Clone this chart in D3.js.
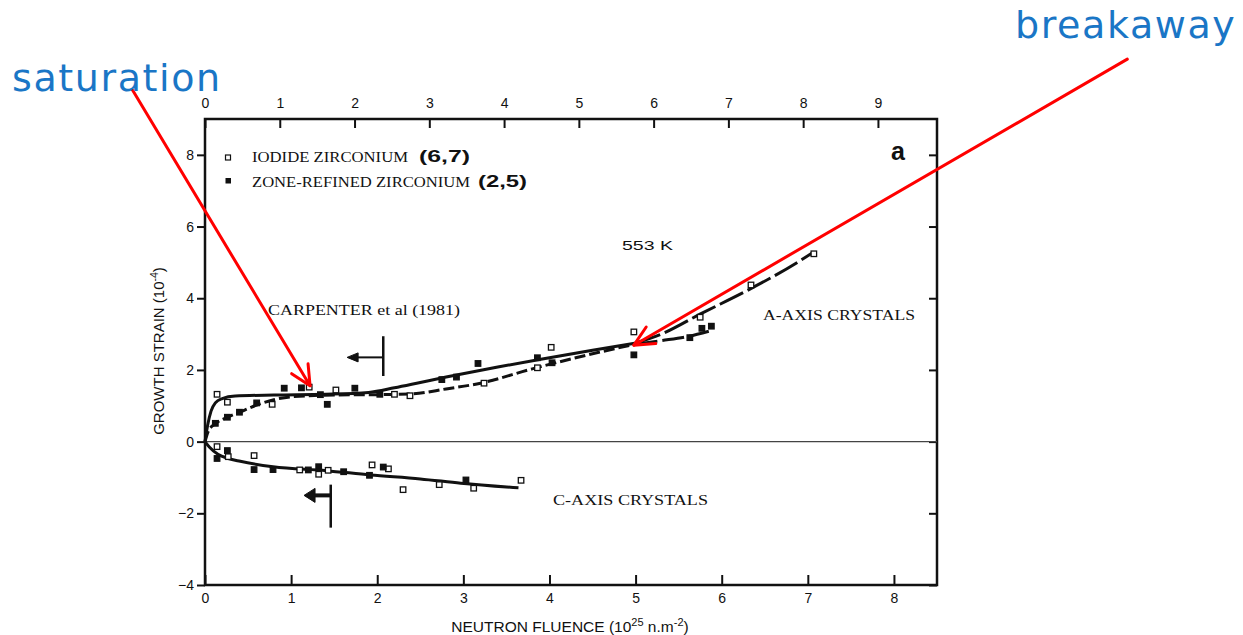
<!DOCTYPE html>
<html>
  <head>
    <script src="https://d3js.org/d3.v7.min.js"></script>
  </head>
  <style>
    body { margin: 0; background: #fff; }
    .tick text { font-family: "Liberation Sans", Arial, sans-serif; font-size: 14px; fill: #111; }
    .tick line { stroke: #111; stroke-width: 2; }
  </style>
  <body>
    <svg></svg>
    <script>
// ---- data (fluence 10^25 n.m^-2, strain 10^-4) ----
const bottomTicks = [0, 1, 2, 3, 4, 5, 6, 7, 8];
const topTicks = [0, 1, 2, 3, 4, 5, 6, 7, 8, 9];
const leftTicks = [-4, -2, 0, 2, 4, 6, 8];

// a-axis, iodide (open squares)
const aIodideX = [0.14, 0.26, 0.78, 1.21, 1.52, 2.2, 2.38, 3.24, 3.86, 4.02, 4.98, 5.75, 6.34, 7.07];
const aIodideY = [1.32, 1.1, 1.04, 1.52, 1.44, 1.32, 1.28, 1.63, 2.06, 2.63, 3.06, 3.47, 4.37, 5.24];
// a-axis, zone refined (filled squares)
const aZoneX = [0.12, 0.26, 0.4, 0.6, 0.92, 1.12, 1.34, 1.42, 1.74, 2.03, 2.75, 2.92, 3.17, 3.86, 4.03, 4.98, 5.63, 5.77, 5.88];
const aZoneY = [0.51, 0.68, 0.82, 1.08, 1.49, 1.5, 1.31, 1.04, 1.49, 1.32, 1.73, 1.8, 2.18, 2.34, 2.2, 2.42, 2.9, 3.16, 3.22];
// c-axis, iodide (open)
const cIodideX = [0.14, 0.27, 0.57, 1.1, 1.32, 1.43, 1.94, 2.13, 2.3, 2.72, 3.12, 3.67];
const cIodideY = [-0.14, -0.42, -0.39, -0.79, -0.91, -0.8, -0.65, -0.76, -1.34, -1.2, -1.3, -1.08];
// c-axis, zone refined (filled)
const cZoneX = [0.14, 0.26, 0.57, 0.79, 1.2, 1.32, 1.61, 1.91, 2.07, 3.03];
const cZoneY = [-0.47, -0.25, -0.78, -0.78, -0.79, -0.7, -0.84, -0.94, -0.71, -1.07];

// fitted curves
const upperX = [0, 0.03, 0.07, 0.12, 0.2, 0.35, 0.8, 1.4, 1.9, 2.2, 2.5, 2.8, 3.4, 3.9, 4.5, 5.0];
const upperY = [0, 0.45, 0.85, 1.08, 1.2, 1.27, 1.3, 1.32, 1.37, 1.5, 1.65, 1.8, 2.08, 2.3, 2.55, 2.75];
const upperExtX = [5.0, 5.3, 5.76, 6.3, 6.88, 7.05];
const upperExtY = [2.75, 3.0, 3.57, 4.22, 5.0, 5.26];
const lowerX = [0, 0.04, 0.12, 0.26, 0.4, 0.6, 0.8, 1.0, 1.5, 2.0, 2.4, 2.8, 3.2, 3.8, 4.5, 5.0];
const lowerY = [0, 0.3, 0.5, 0.68, 0.82, 1.02, 1.17, 1.25, 1.3, 1.31, 1.33, 1.47, 1.63, 2.03, 2.45, 2.72];
const branchX = [5.0, 5.3, 5.6, 5.85];
const branchY = [2.72, 2.82, 2.93, 3.08];
const cCurveX = [0, 0.05, 0.15, 0.27, 0.41, 0.79, 1.41, 1.92, 2.5, 2.97, 3.64];
const cCurveY = [0, -0.15, -0.35, -0.47, -0.55, -0.7, -0.81, -0.93, -1.04, -1.16, -1.29];

// "<-|" flux markers: bar at x from y0 to y1, arrow to xa at ya
const markerX = [2.07, 1.46];
const markerY0 = [1.83, -1.2];
const markerY1 = [2.94, -2.4];
const markerXa = [1.65, 1.15];
const markerYa = [2.35, -1.5];

// red annotation arrows (tail -> tip, data units)
const noteText = ["saturation", "breakaway"];
const noteTail = [[-0.84, 9.8], [10.71, 10.67]];
const noteTip = [[1.22, 1.56], [4.98, 2.69]];

// ---- layout ----
const W = 1243, H = 635;
const svg = d3.select("svg").attr("width", W).attr("height", H);
svg.append("rect").attr("width", W).attr("height", H).attr("fill", "#fff");

const x = d3.scaleLinear().domain([0, 8.5]).range([205, 937]);
const xTop = d3.scaleLinear().domain([0, 9.79]).range([205, 937]);
const y = d3.scaleLinear().domain([-4, 9]).range([585, 119]);

// axes
svg.append("g").attr("transform", "translate(0,585)")
  .call(d3.axisBottom(x).tickValues(bottomTicks).tickSize(-10).tickPadding(8).tickSizeOuter(0))
  .call(g => g.select(".domain").remove());
svg.append("g").attr("transform", "translate(0,119)")
  .call(d3.axisTop(xTop).tickValues(topTicks).tickSize(-9).tickPadding(11).tickSizeOuter(0))
  .call(g => g.selectAll(".tick text").attr("font-size", 13))
  .call(g => g.select(".domain").remove());
svg.append("g").attr("transform", "translate(205,0)")
  .call(d3.axisLeft(y).tickValues(leftTicks).tickSize(8).tickPadding(3).tickFormat(d => d < 0 ? "\u2212" + (-d) : d))
  .call(g => g.select(".domain").remove());
svg.append("g").attr("transform", "translate(937,0)")
  .call(d3.axisRight(y).tickValues(leftTicks).tickSize(-8).tickFormat(""))
  .call(g => g.select(".domain").remove());

// frame
svg.append("rect")
  .attr("x", x(0)).attr("y", y(9))
  .attr("width", x(8.5) - x(0)).attr("height", y(-4) - y(9))
  .attr("fill", "none").attr("stroke", "#111").attr("stroke-width", 2.5);

// zero line
svg.append("line")
  .attr("x1", x(0)).attr("x2", x(8.5)).attr("y1", y(0)).attr("y2", y(0))
  .attr("stroke", "#444").attr("stroke-width", 1.2);

// axis titles
const sans = "'Liberation Sans', Arial, sans-serif";
const serif = "'Liberation Serif', 'Times New Roman', serif";
const xt = svg.append("text").attr("x", 570).attr("y", 632).attr("text-anchor", "middle")
  .attr("font-family", sans).attr("font-size", 15.5).attr("fill", "#111");
xt.append("tspan").text("NEUTRON FLUENCE  (10");
xt.append("tspan").attr("dy", -6).attr("font-size", 11).text("25");
xt.append("tspan").attr("dy", 6).text(" n.m");
xt.append("tspan").attr("dy", -6).attr("font-size", 11).text("-2");
xt.append("tspan").attr("dy", 6).text(")");

const yt = svg.append("text").attr("transform", "translate(164,351) rotate(-90)").attr("text-anchor", "middle")
  .attr("font-family", sans).attr("font-size", 15).attr("fill", "#111");
yt.append("tspan").text("GROWTH STRAIN  (10");
yt.append("tspan").attr("dy", -6).attr("font-size", 10.5).text("-4");
yt.append("tspan").attr("dy", 6).text(")");

// curves
const zip = (xs, ys) => xs.map((v, i) => [v, ys[i]]);
const line = d3.line().x(d => x(d[0])).y(d => y(d[1])).curve(d3.curveMonotoneX);
const curves = [
  { pts: zip(upperX, upperY), dash: null },
  { pts: zip(upperExtX, upperExtY), dash: "26,5" },
  { pts: zip(lowerX, lowerY), dash: "11,4" },
  { pts: zip(branchX, branchY), dash: "22,5" },
  { pts: zip(cCurveX, cCurveY), dash: null }
];
svg.append("g").selectAll("path").data(curves).join("path")
  .attr("d", d => line(d.pts))
  .attr("fill", "none").attr("stroke", "#111").attr("stroke-width", 3)
  .attr("stroke-dasharray", d => d.dash);

// points
const ms = 5.5;
function squares(xs, ys, filled) {
  svg.append("g").selectAll("rect").data(zip(xs, ys)).join("rect")
    .attr("x", d => x(d[0]) - ms / 2).attr("y", d => y(d[1]) - ms / 2)
    .attr("width", ms).attr("height", ms)
    .attr("fill", filled ? "#111" : "#fff").attr("stroke", "#111").attr("stroke-width", 1.3);
}
squares(aIodideX, aIodideY, false);
squares(aZoneX, aZoneY, true);
squares(cIodideX, cIodideY, false);
squares(cZoneX, cZoneY, true);

// flux markers
markerX.forEach((mx, i) => {
  const g = svg.append("g").attr("stroke", "#111").attr("fill", "#111");
  g.append("line").attr("x1", x(mx)).attr("x2", x(mx)).attr("y1", y(markerY0[i])).attr("y2", y(markerY1[i])).attr("stroke-width", 2.5);
  g.append("line").attr("x1", x(mx)).attr("x2", x(markerXa[i]) + 8).attr("y1", y(markerYa[i])).attr("y2", y(markerYa[i])).attr("stroke-width", i ? 4 : 2);
  const tx = x(markerXa[i]), ty = y(markerYa[i]), hw = i ? 7 : 4.5;
  g.append("path").attr("d", `M${tx},${ty} L${tx + 11},${ty - hw} L${tx + 11},${ty + hw} Z`).attr("stroke-width", 1);
});

// legend + labels
svg.append("rect").attr("x", 225.5).attr("y", 155).attr("width", 5).attr("height", 5).attr("fill", "#fff").attr("stroke", "#111").attr("stroke-width", 1.2);
svg.append("rect").attr("x", 225.5).attr("y", 178).attr("width", 5.5).attr("height", 5.5).attr("fill", "#111");
const label = (t, px, py, font, size, len, extra) => {
  const el = svg.append("text").attr("x", px).attr("y", py).attr("font-family", font)
    .attr("font-size", size).attr("fill", "#111").text(t);
  if (len) el.attr("textLength", len).attr("lengthAdjust", "spacingAndGlyphs");
  if (extra) extra(el);
  return el;
};
label("IODIDE ZIRCONIUM", 252, 162, serif, 15, 156);
label("(6,7)", 419, 162, sans, 16, 51, el => el.attr("font-weight", "bold"));
label("ZONE-REFINED ZIRCONIUM", 252, 187, serif, 15, 218);
label("(2,5)", 478, 187, sans, 16, 49, el => el.attr("font-weight", "bold"));
label("553 K", 622, 250, sans, 13, 51);
label("CARPENTER et al (1981)", 268, 315, serif, 15, 192);
label("A-AXIS CRYSTALS", 763, 320, serif, 15.5, 152);
label("C-AXIS CRYSTALS", 553, 505, serif, 15.5, 155);
label("a", 891, 160, sans, 25, null, el => el.attr("font-weight", "bold"));

// red annotations
noteTail.forEach((t, i) => {
  const x1 = x(t[0]), y1 = y(t[1]), x2 = x(noteTip[i][0]), y2 = y(noteTip[i][1]);
  const g = svg.append("g").attr("stroke", "#f00").attr("stroke-width", 3).attr("fill", "none").attr("stroke-linecap", "round");
  g.append("line").attr("x1", x1).attr("y1", y1).attr("x2", x2).attr("y2", y2);
  const a = Math.atan2(y1 - y2, x1 - x2), L = 22, s = 0.45;
  g.append("path").attr("stroke-linejoin", "round")
    .attr("d", `M${x2 + L * Math.cos(a + s)},${y2 + L * Math.sin(a + s)} L${x2},${y2} L${x2 + L * Math.cos(a - s)},${y2 + L * Math.sin(a - s)}`);
});
svg.append("text").attr("x", 12).attr("y", 91).attr("font-family", "'DejaVu Sans', Verdana, sans-serif")
  .attr("font-size", 38).attr("letter-spacing", 1.6).attr("fill", "#1a76c6").text(noteText[0]);
svg.append("text").attr("x", 1015).attr("y", 38).attr("font-family", "'DejaVu Sans', Verdana, sans-serif")
  .attr("font-size", 38).attr("letter-spacing", 1.6).attr("fill", "#1a76c6").text(noteText[1]);
    </script>
  </body>
</html>
